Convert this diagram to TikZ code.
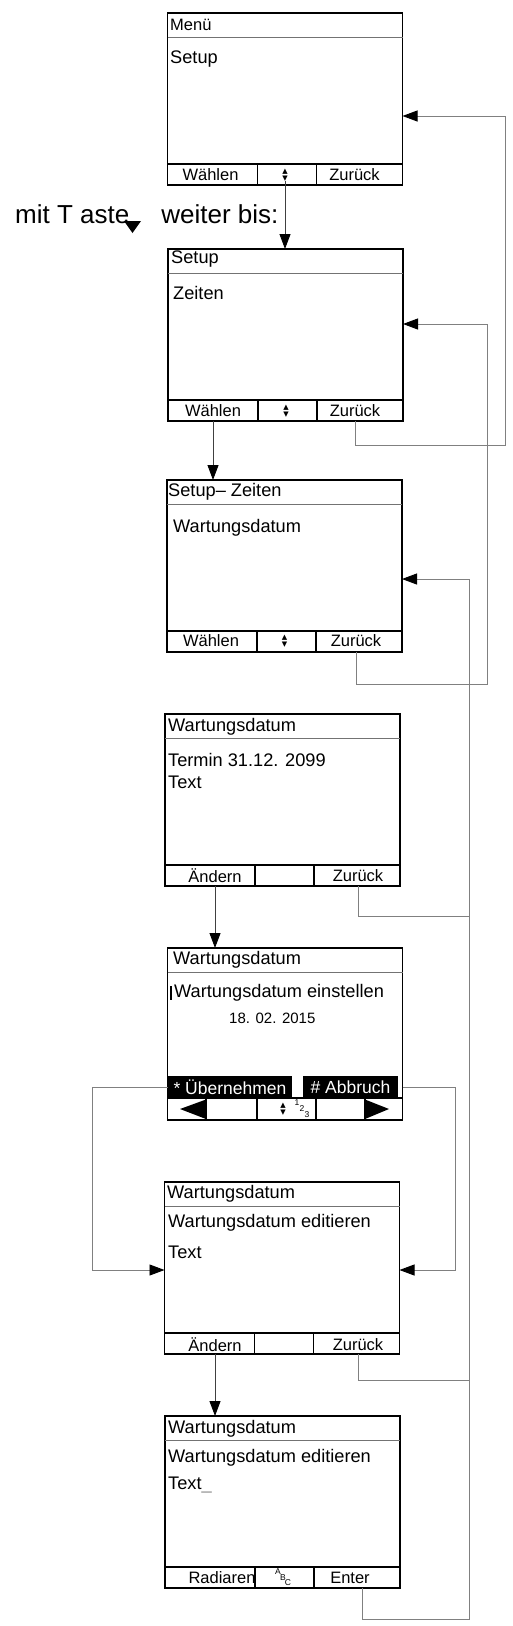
\documentclass[tikz,border=0pt]{standalone}
\usepackage{fontspec}
\setmainfont{Liberation Sans}
\newfontfamily\symfont{DejaVu Sans}
\usetikzlibrary{arrows.meta,calc}
\tikzset{screen/.style={draw, line width=1.6pt, minimum width=235pt, minimum height=172pt, inner sep=0pt, outer sep=0pt}}
\tikzset{titleline/.style={line width=0.8pt, black!55}}
\tikzset{keyline/.style={line width=1.1pt, black}}
\tikzset{lcd/.style={anchor=west, inner sep=0pt, font=\fontsize{18.2}{19}\selectfont}}
\tikzset{softkey/.style={inner sep=0pt, font=\fontsize{16.5}{17}\selectfont}}
\tikzset{updown/.style={inner sep=0pt, align=center, font=\symfont\fontsize{7}{6.5}\selectfont}}
\tikzset{tiny/.style={inner sep=0pt, font=\fontsize{8.5}{8.5}\selectfont}}
\tikzset{softbar/.style={fill=black, text=white, minimum height=22pt, inner sep=0pt, font=\fontsize{17.5}{17.5}\selectfont}}
\tikzset{link/.style={line width=0.9pt, black!75, -{Triangle[length=15pt,width=11pt,color=black]}}}
\tikzset{back/.style={line width=0.9pt, black!50}}
\tikzset{backarrow/.style={back, -{Triangle[length=15pt,width=11pt,color=black]}}}

\begin{document}
\begin{tikzpicture}[x=1pt, y=-1pt]
\useasboundingbox (0,0) rectangle (512,1626);

% the seven screens
\node (s1) at (285,99)[screen]{};
\node (s2) at (285.5,335)[screen]{};
\node (s3) at (284.5,566)[screen]{};
\node (s4) at (282.5,800)[screen]{};
\node (s5) at (285,1034)[screen]{};
\node (s6) at (282,1268)[screen]{};
\node (s7) at (282.5,1502)[screen]{};

\foreach \scr in {s1,s2,s3,s4,s5,s6,s7}
  \draw[titleline] ([yshift=-24pt]\scr.north west) -- ([yshift=-24pt]\scr.north east);
\foreach \scr in {s1,s2,s3,s4,s6,s7}{
  \draw[keyline] ([yshift=21pt]\scr.south west) -- ([yshift=21pt]\scr.south east);
  \draw[keyline] ([xshift=90pt,yshift=21pt]\scr.south west) -- ([xshift=90pt]\scr.south west);
  \draw[keyline] ([xshift=149pt,yshift=21pt]\scr.south west) -- ([xshift=149pt]\scr.south west);
}

% Menue
\node[lcd, font=\fontsize{16.5}{17}\selectfont] (t1) at (170,25) {Menü};
\node[lcd] (m1) at (170,59) {Setup};
\node[softkey] (w1) at (210.5,175) {Wählen};
\node[updown] (u1) at (285,175) {▲\\▼};
\node[softkey] (z1) at (354.5,175) {Zurück};

\node[anchor=base west, inner sep=0pt, font=\fontsize{26}{26}\selectfont] (hint) at (15,223)
  {mit T aste\hspace{32pt}weiter bis:};
\fill (124,221) -- (141,221) -- (132.5,233) -- cycle;

% Setup
\node[lcd] (t2) at (171,259) {Setup};
\node[lcd] (m2) at (173,293) {Zeiten};
\node[softkey] (w2) at (213,411) {Wählen};
\node[updown] (u2) at (286,411) {▲\\▼};
\node[softkey] (z2) at (355,411) {Zurück};

% Setup - Zeiten
\node[lcd] (t3) at (168,492) {Setup– Zeiten};
\node[lcd] (m3) at (173,528) {Wartungsdatum};
\node[softkey] (w3) at (211,641) {Wählen};
\node[updown] (u3) at (284.5,641) {▲\\▼};
\node[softkey] (z3) at (356,641) {Zurück};

% Wartungsdatum
\node[lcd] (t4) at (168,727) {Wartungsdatum};
\node[lcd] (m4) at (168,760) {Termin 31.12. 2099};
\node[lcd] (n4) at (168,782) {Text};
\node[softkey] (a4) at (215,876) {Ändern};
\node[softkey] (z4) at (358,876) {Zurück};

% einstellen
\node[lcd] (t5) at (173,960) {Wartungsdatum};
\draw[line width=1.5pt] (171,986) -- (171,1000);
\node[lcd] (m5) at (174,993) {Wartungsdatum einstellen};
\node[lcd, font=\fontsize{15}{15}\selectfont] (d5) at (229,1018) {18. 02. 2015};
\node[softbar, minimum width=124pt] (ok) at (230,1087) {* Übernehmen};
\node[softbar, minimum width=95pt] (ab) at (350.5,1087) {\# Abbruch};
\draw[keyline] ([yshift=22pt]s5.south west) -- ([yshift=22pt]s5.south east);
\draw[keyline] ([xshift=38.5pt,yshift=22pt]s5.south west) -- ([xshift=38.5pt]s5.south west);
\draw[keyline] ([xshift=89.5pt,yshift=22pt]s5.south west) -- ([xshift=89.5pt]s5.south west);
\draw[keyline] ([xshift=148.5pt,yshift=22pt]s5.south west) -- ([xshift=148.5pt]s5.south west);
\draw[keyline] ([xshift=197.5pt,yshift=22pt]s5.south west) -- ([xshift=197.5pt]s5.south west);
\fill (180,1109) -- (206,1099.5) -- (206,1119) -- cycle;
\fill (389,1109) -- (365,1099.5) -- (365,1119) -- cycle;
\node[updown] (u5) at (283,1109) {▲\\▼};
\node[tiny] (k1) at (297,1103) {1};
\node[tiny] (k2) at (302,1109) {2};
\node[tiny] (k3) at (307,1115) {3};

% editieren
\node[lcd] (t6) at (167,1194) {Wartungsdatum};
\node[lcd] (m6) at (168,1223) {Wartungsdatum editieren};
\node[lcd] (n6) at (168,1252) {Text};
\node[softkey] (a6) at (215,1345) {Ändern};
\node[softkey] (z6) at (358,1345) {Zurück};

% Text eingeben
\node[lcd] (t7) at (168,1429) {Wartungsdatum};
\node[lcd] (m7) at (168,1458) {Wartungsdatum editieren};
\node[lcd] (n7) at (168,1485) {Text{\color{black!45}\_}};
\node[softkey] (r7) at (222,1578) {Radiaren};
\node[tiny] (k4) at (278,1572) {A};
\node[tiny] (k5) at (283,1578) {B};
\node[tiny] (k6) at (288,1583) {C};
\node[softkey] (e7) at (350,1578) {Enter};

% forward
\draw[link] (u1.south) -- (u1 |- s2.north);
\draw[link] (w2 |- s2.south) -- (w2 |- s3.north);
\draw[link] (a4 |- s4.south) -- (a4 |- s5.north);
\draw[link] (a6 |- s6.south) -- (a6 |- s7.north);

% back
\coordinate (bus1) at (505,445);
\coordinate (bus2) at (487,684);
\coordinate (bus3) at (469,1619);
\coordinate (bus4) at (92,1270);
\coordinate (bus5) at (455,1270);
\draw[backarrow] (z2 |- s2.south) |- (bus1) |- ([yshift=-17pt]s1.east);
\draw[backarrow] (z3 |- s3.south) |- (bus2) |- ([yshift=11pt]s2.east);
\draw[backarrow] ([xshift=12pt]e7 |- s7.south) |- (bus3) |- ([yshift=-13pt]s3.east);
\draw[back] (z4 |- s4.south) -- ++(0,30) -| (bus3);
\draw[back] (z6 |- s6.south) -- ++(0,26) -| (bus3);
\draw[backarrow] (ok.west) -| (bus4) -- (bus4 -| s6.west);
\draw[backarrow] (ab.east -| s5.east) -| (bus5) -- (bus5 -| s6.east);
\end{tikzpicture}
\end{document}
